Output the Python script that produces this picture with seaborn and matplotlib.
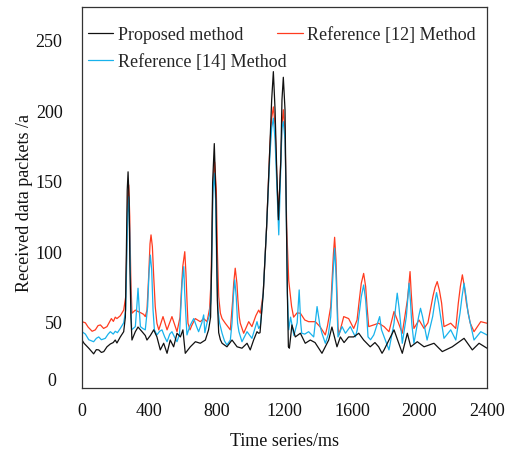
import numpy as np
import pandas as pd
import matplotlib
matplotlib.use("Agg")
import matplotlib.pyplot as plt
import seaborn as sns

# ---------------- data ----------------
proposed_ms = [0, 12, 40, 69, 85, 99, 115, 129, 148, 168, 185, 197, 207, 227, 247, 257, 263, 268, 273, 279,
               284, 290, 296, 316, 332, 356, 375, 385, 405, 425, 444, 464, 484, 504, 523, 543, 563, 583, 598,
               612, 642, 672, 701, 731, 750, 762, 768, 774, 784, 794, 802, 810, 820, 830, 859, 889, 919, 948,
               978, 997, 1017, 1037, 1047, 1055, 1074, 1094, 1114, 1124, 1134, 1144, 1154, 1164, 1178, 1185,
               1193, 1203, 1209, 1217, 1223, 1229, 1244, 1264, 1294, 1323, 1353, 1381, 1422, 1462, 1481, 1511,
               1531, 1553, 1580, 1610, 1640, 1669, 1708, 1736, 1758, 1778, 1790, 1849, 1898, 1928, 1948, 1987,
               2027, 2086, 2135, 2194, 2264, 2313, 2353, 2400]
proposed_val = [37.8, 35.5, 32, 28, 31, 30.8, 29, 29.6, 33, 35, 36, 37.8, 35.7, 40, 43.7, 54, 101, 144, 157, 137,
                90, 54, 37.8, 43.7, 47, 43.7, 41, 37.8, 41, 45, 40, 30.8, 35.5, 28.4, 37.8, 33, 42.6, 40, 45,
                28.4, 33, 36.6, 35.5, 37.8, 45, 54, 90, 149, 177, 137, 66, 43, 38, 35.5, 33, 37.8, 33, 32,
                35.5, 30.8, 37.8, 43.7, 42.6, 43, 71, 118, 177, 208, 228, 201, 158, 123, 165, 208,
                224, 201, 142, 71, 33, 32, 48.5, 40, 42.6, 35.5, 37.8, 36, 28.4, 37.8, 47, 33,
                40, 36, 40, 40, 42.6, 37.8, 33, 36, 33, 28.4, 30.8, 45, 28.4, 42.6, 33, 36.6,
                33, 35.5, 29.6, 33, 39, 30.8, 35.5, 32]

ref12_ms = [0, 20, 36, 60, 79, 95, 109, 128, 148, 165, 174, 186, 197, 207, 227, 247, 259, 265, 271, 277, 283,
            289, 296, 316, 332, 350, 365, 375, 385, 395, 403, 409, 417, 425, 434, 444, 455, 480, 504, 533, 563,
            581, 589, 597, 609, 616, 622, 628, 640, 650, 671, 701, 721, 741, 756, 764, 770, 776, 786, 796, 802,
            810, 820, 830, 849, 879, 885, 893, 899, 908, 918, 924, 932, 938, 958, 988, 1007, 1030, 1047, 1057,
            1074, 1094, 1114, 1124, 1134, 1144, 1154, 1164, 1178, 1185, 1193, 1203, 1213, 1225, 1233, 1242,
            1254, 1274, 1294, 1320, 1343, 1383, 1412, 1442, 1455, 1474, 1482, 1490, 1497, 1505, 1511, 1517,
            1523, 1551, 1580, 1610, 1630, 1643, 1655, 1669, 1681, 1689, 1699, 1729, 1758, 1790, 1819, 1849,
            1875, 1898, 1928, 1936, 1944, 1951, 1957, 1967, 1997, 2027, 2050, 2066, 2080, 2092, 2105, 2118,
            2131, 2145, 2185, 2215, 2230, 2242, 2254, 2266, 2278, 2300, 2323, 2363, 2400]
ref12_val = [50.8, 50, 47, 44, 45, 48, 48.5, 46, 47.3, 51, 53, 51, 54, 53, 55, 59, 68.5, 101.6, 139, 147.7, 125,
             83, 56.8, 59, 58, 57, 56, 54.4, 59, 82.7, 106, 112.3, 104, 82.7, 61.5, 49.7, 45, 54.4, 45, 54.4, 43.7,
             54, 73, 89.8, 100.4, 85, 66, 49.7, 45, 48, 53, 50.8, 53, 50.8, 60, 78, 113.5, 149, 164, 144, 101.6,
             68.5, 56.8, 53, 49.7, 45, 54, 66, 78, 88.7, 78, 66, 54, 49.7, 42.6, 50.8, 47.3, 55, 59, 56.8,
             71, 118, 177, 195, 203, 190, 155, 125, 165, 190, 201, 185, 118, 80, 71, 61.5,
             54, 57, 56.8, 52, 50.8, 50.8, 47, 41.4, 48, 61.5, 80, 99, 110.6, 94.5, 71, 47.3,
             41.4, 54.4, 53, 46, 52, 66, 78, 85, 75.6, 61.5, 47.3, 48.5, 49.7, 47.3, 43.7, 58,
             50, 42.6, 66, 75.6, 86.3, 71, 60, 46, 52, 46, 50, 60, 69, 75, 79.2, 73,
             64, 47.3, 49.7, 46, 64, 75.6, 84, 75.6, 64, 50, 43.7, 50.8, 49.7]

ref14_ms = [0, 20, 40, 69, 85, 99, 115, 138, 155, 168, 185, 197, 210, 227, 247, 259, 265, 271, 277, 283, 289,
            294, 316, 324, 332, 340, 346, 360, 375, 389, 397, 405, 413, 421, 429, 444, 460, 474, 490, 504, 520,
            533, 548, 563, 578, 585, 593, 603, 608, 616, 622, 640, 662, 680, 691, 710, 721, 728, 741, 755, 764,
            770, 776, 784, 792, 798, 806, 815, 830, 845, 859, 879, 889, 897, 905, 914, 922, 930, 948, 978,
            1007, 1037, 1047, 1057, 1074, 1094, 1114, 1124, 1134, 1144, 1154, 1166, 1178, 1185, 1193, 1203,
            1209, 1217, 1225, 1236, 1256, 1275, 1287, 1296, 1302, 1320, 1343, 1373, 1393, 1410, 1422, 1442,
            1460, 1474, 1482, 1490, 1497, 1505, 1511, 1517, 1541, 1561, 1590, 1620, 1631, 1643, 1655, 1669,
            1681, 1689, 1695, 1710, 1729, 1764, 1775, 1797, 1819, 1849, 1859, 1868, 1878, 1888, 1898, 1922,
            1930, 1938, 1946, 1954, 1967, 1995, 2006, 2018, 2045, 2078, 2090, 2101, 2113, 2125, 2145, 2185,
            2215, 2240, 2252, 2264, 2276, 2288, 2323, 2363, 2400]
ref14_val = [43.7, 42, 38, 36.6, 39, 40, 38, 39, 42, 43.7, 42, 44, 43, 46, 50, 59, 94.5, 128, 139.4, 113.5, 66,
             45, 47.3, 60, 74.5, 58, 47.3, 46, 45, 61.5, 85, 98, 87.5, 59, 45, 41.4, 44, 45, 40, 36.6, 42,
             43.7, 40, 36.6, 42, 59, 78, 89.8, 73, 54, 41.4, 48, 53, 47, 43.7, 50, 55.6, 43, 50, 55, 66,
             101.6, 142, 156, 137, 90, 59, 50, 42.6, 37, 34.3, 37.8, 49.7, 68.5, 80.4, 68.5, 49.7, 43.7, 36.6, 43.7,
             39, 50.8, 46, 48, 71, 118, 170, 188, 195, 180, 150, 112.3, 160, 188, 192.6, 180,
             142, 71, 45, 54, 41, 50, 73.3, 50, 42.6, 42, 43.7, 40, 61.5, 48, 42.6, 35.5,
             42, 54.4, 73, 89.8, 102.8, 85, 61.5, 40, 47.3, 42.6, 47.3, 40, 45, 56.8, 68.5, 76.8,
             66, 52, 40, 38, 41.4, 54.4, 45, 37.8, 30.8, 49.7, 61.5, 71, 61.5, 49.7, 35.5, 54.4,
             66, 78, 66, 49.7, 35.5, 54.4, 60.3, 54.4, 37.8, 54.4, 64, 71.4, 64, 54.4, 39, 45,
             37.8, 56.8, 68.5, 78, 68.5, 56.8, 37.8, 43.7, 41.4]

labels = ["Proposed method", "Reference [12] Method", "Reference [14] Method"]
x_ticks = [0, 400, 800, 1200, 1600, 2000, 2400]
y_ticks = [50, 100, 150, 200, 250]

# ---------------- plotting ----------------
sns.set_theme(style="white")
plt.rcParams["font.family"] = ["Liberation Serif", "DejaVu Serif"]

W, H = 505, 451
fig = plt.figure(figsize=(W / 100, H / 100), dpi=100)
ax = fig.add_axes([82 / W, 63 / H, 405 / W, 381 / H])

df_p = pd.DataFrame({"ms": proposed_ms, "val": proposed_val})
df_12 = pd.DataFrame({"ms": ref12_ms, "val": ref12_val})
df_14 = pd.DataFrame({"ms": ref14_ms, "val": ref14_val})

lw = 0.9
sns.lineplot(data=df_12, x="ms", y="val", ax=ax, color="#FF3B1F", lw=lw, label=labels[1], estimator=None)
sns.lineplot(data=df_14, x="ms", y="val", ax=ax, color="#18B2EC", lw=lw, label=labels[2], estimator=None)
sns.lineplot(data=df_p, x="ms", y="val", ax=ax, color="#111111", lw=lw, label=labels[0], estimator=None)

ax.set_xlim(0, 2400)
ax.set_ylim(3.8, 273.8)
ax.set_xticks(x_ticks)
ax.set_xticklabels([str(t) for t in x_ticks])
ax.set_yticks(y_ticks)
ax.set_yticklabels([str(t) for t in y_ticks])

ax.tick_params(axis="x", length=0, pad=11, labelsize=13, colors="#111111")
ax.tick_params(axis="y", direction="in", length=3, width=0.8, pad=14, labelsize=13, colors="#111111")
# the "0" label of the y axis sits slightly above the bottom frame in the reference
fig.text(52 / W, 1 - 382 / H, "0", ha="center", va="center", fontsize=13, color="#111111")

for s in ax.spines.values():
    s.set_visible(True)
    s.set_color("#333333")
    s.set_linewidth(0.9)

ax.set_xlabel("Time series/ms", fontsize=13, labelpad=9, color="#111111")
ax.set_ylabel("Received data packets /a", fontsize=13, color="#111111")
ax.yaxis.set_label_coords(-0.12, 0.485)

handles, labs = ax.get_legend_handles_labels()
hmap = dict(zip(labs, handles))
order = [labels[0], labels[2], labels[1]]
ax.legend([hmap[k] for k in order], order, ncol=2, loc="upper left",
          bbox_to_anchor=(6 / 405, 0.948), frameon=False, fontsize=13,
          borderpad=0, borderaxespad=0, handlelength=1.4, handletextpad=0.25,
          columnspacing=-0.5, labelspacing=0.55)

fig.savefig("out.png", dpi=100)
